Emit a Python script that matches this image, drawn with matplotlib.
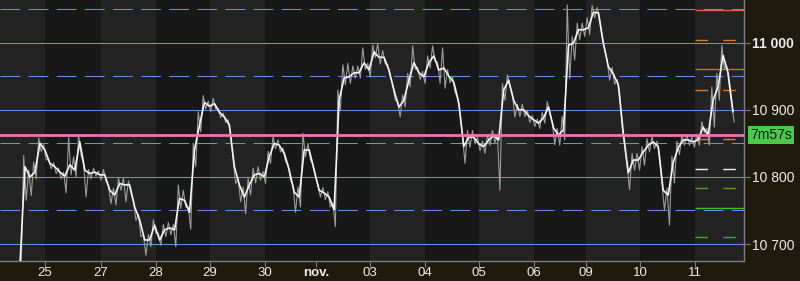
import matplotlib
matplotlib.use("Agg")
import matplotlib.pyplot as plt
import matplotlib.transforms as mtransforms
import numpy as np

# close price, sampled roughly every 5 px along the original chart
close = [10670, 10815, 10800, 10807, 10850, 10840, 10820, 10815, 10807, 10801,
         10818, 10810, 10852, 10810, 10805, 10807, 10803, 10803, 10780, 10773,
         10790, 10788, 10788, 10755, 10736, 10706, 10706, 10728, 10706, 10721,
         10724, 10721, 10768, 10765, 10747, 10840, 10877, 10911, 10905, 10909,
         10896, 10889, 10877, 10815, 10788, 10770, 10788, 10803, 10805, 10800,
         10830, 10850, 10847, 10835, 10810, 10777, 10770, 10840, 10840, 10810,
         10780, 10776, 10770, 10751, 10914, 10947, 10949, 10955, 10955, 10970,
         10959, 10986, 10978, 10978, 10959, 10929, 10904, 10914, 10944, 10970,
         10955, 10949, 10970, 10980, 10959, 10962, 10950, 10941, 10910, 10845,
         10859, 10859, 10849, 10845, 10855, 10861, 10855, 10929, 10944, 10914,
         10900, 10900, 10891, 10885, 10880, 10888, 10904, 10873, 10862, 10870,
         10996, 10999, 11019, 11019, 11022, 11045, 11044, 10999, 10964, 10953,
         10937, 10865, 10806, 10825, 10825, 10837, 10847, 10852, 10845, 10780,
         10773, 10821, 10843, 10855, 10855, 10852, 10855, 10874, 10862, 10914,
         10934, 10981, 10955, 10897]
# wick above / below the close for each sample (points)
up = [0, 17, 10, 15, 8, 8, 6, 6, 6, 6,
      40, 20, 10, 10, 6, 6, 6, 8, 8, 10,
      8, 10, 6, 10, 8, 8, 8, 8, 10, 8,
      8, 8, 20, 15, 8, 10, 20, 10, 8, 8,
      6, 6, 8, 10, 10, 15, 10, 10, 10, 8,
      8, 10, 8, 8, 8, 10, 15, 25, 10, 8,
      8, 8, 8, 10, 15, 20, 20, 10, 10, 22,
      10, 10, 20, 10, 8, 8, 8, 8, 10, 25,
      8, 8, 10, 15, 12, 30, 10, 8, 8, 15,
      10, 10, 10, 8, 8, 8, 8, 10, 8, 10,
      8, 8, 8, 6, 6, 8, 8, 8, 10, 20,
      60, 10, 10, 10, 15, 10, 8, 8, 10, 10,
      8, 10, 10, 10, 10, 8, 10, 8, 8, 10,
      10, 10, 10, 8, 8, 8, 8, 8, 10, 20,
      20, 15, 10, 8]
dn = [0, 50, 28, 10, 12, 15, 8, 10, 10, 25,
      15, 10, 20, 40, 8, 6, 8, 10, 20, 15,
      10, 25, 12, 20, 25, 23, 10, 12, 8, 10,
      10, 25, 15, 10, 25, 25, 10, 10, 8, 8,
      8, 8, 15, 25, 25, 25, 15, 12, 10, 10,
      10, 8, 10, 12, 15, 30, 15, 10, 15, 10,
      10, 10, 15, 25, 15, 10, 10, 8, 8, 10,
      10, 8, 10, 10, 10, 15, 15, 10, 10, 10,
      10, 10, 8, 8, 20, 30, 10, 15, 15, 25,
      15, 10, 10, 10, 8, 10, 75, 15, 10, 25,
      10, 10, 10, 10, 8, 8, 10, 25, 15, 15,
      50, 25, 15, 10, 10, 8, 8, 10, 20, 15,
      10, 20, 25, 15, 15, 20, 10, 10, 12, 30,
      45, 30, 10, 8, 8, 8, 8, 8, 15, 40,
      20, 20, 20, 15]

# x axis is measured in sessions from the "25" label
data_start, data_end = -0.458, 12.601
x_left, x_right = -0.824, 12.802
day_labels = ["25", "27", "28", "29", "30", "nov.", "03", "04", "05", "06", "09", "10", "11"]
day_pos = [0, 1.026, 2.033, 3.022, 4.029, 4.963, 5.952, 6.960, 7.949, 8.956, 9.908, 10.897, 11.905]
# sessions shaded alternately (the short sunday session shares its band)
band_edges = [x_left, 0, 1.026, 2.033, 3.022, 4.029, 5.952, 6.960, 7.949, 8.956,
              9.908, 10.897, 11.905, x_right]

grid_solid = [10700, 10800, 10900, 11000]
grid_dash = [10750, 10850, 10950, 11050]
y_low, y_high = 10674.7, 11063.3
last_price = 10862
countdown = "7m57s"

pivot_levels = [11048, 11004, 10960, 10930, 10857, 10812, 10784, 10754, 10710]
pivot_colors = ["#e05a5a", "#d8782a", "#e05a5a", "#d8782a", "#d8782a",
                "#f2f2f2", "#4e9a30", "#48b838", "#4e9a30"]
pivot_dashed = [False, True, False, True, True, True, True, False, True]

plt.rcParams["font.family"] = ["Liberation Sans", "DejaVu Sans"]

fig = plt.figure(figsize=(8, 2.81), dpi=100, facecolor="#1e1b0c")
ax = fig.add_axes([0, 0.0712, 0.93, 0.9288])
ax.set_facecolor("#1a1a1a")

for k in range(len(band_edges) - 1):
    col = "#232323" if k % 2 == 0 else "#181818"
    ax.axvspan(band_edges[k], band_edges[k + 1], color=col, lw=0, zorder=0)

for v in grid_solid:
    ax.axhline(v, color="#6a8ee6", lw=0.75, zorder=1)
for v in grid_dash:
    ax.axhline(v, color="#6a8ee6", lw=0.75, ls=(0, (19, 8)), zorder=1)

for lvl, col, dsh in zip(pivot_levels, pivot_colors, pivot_dashed):
    ax.hlines(lvl, day_pos[-1], x_right, colors=col, lw=1.0,
              linestyles=(0, (9, 11)) if dsh else "solid", zorder=2)

t = np.linspace(data_start, data_end, len(close))
c = np.array(close, dtype=float)
hi = c + np.array(up)
lo = c - np.array(dn)
step = t[1] - t[0]
gx = np.column_stack([t - step / 4, t + step / 4]).ravel()
gy = np.column_stack([hi, lo]).ravel()
ax.plot(gx, gy, color="#9c9c9c", lw=0.8, zorder=3)
ax.plot(t, c, color="#f4f4f4", lw=1.2, zorder=4)

ax.axhline(last_price, color="#e878b4", lw=2.0, zorder=5)

ax.set_xlim(x_left, x_right)
ax.set_ylim(y_low, y_high)

ax.yaxis.tick_right()
ax.set_yticks(grid_solid)
ax.set_yticklabels([f"{v:,}".replace(",", " ") for v in grid_solid])
for lab, v in zip(ax.get_yticklabels(), grid_solid):
    if v == 11000:
        lab.set_fontweight("bold")

ax.set_xticks(day_pos)
ax.set_xticklabels(day_labels)
for lab in ax.get_xticklabels():
    if lab.get_text() == "nov.":
        lab.set_fontweight("bold")

ax.tick_params(colors="#7d7d7d", labelcolor="#ececec", labelsize=10, length=4, width=0.8)
ax.tick_params(axis="x", labelsize=9.5, pad=0.5)
ax.tick_params(axis="y", pad=2)
for s in ["top", "left"]:
    ax.spines[s].set_visible(False)
for s in ["right", "bottom"]:
    ax.spines[s].set_color("#7d7d7d")
    ax.spines[s].set_linewidth(1.0)

trans = mtransforms.blended_transform_factory(ax.transAxes, ax.transData)
ax.text(1.008, last_price, countdown, transform=trans, ha="left", va="center",
        fontsize=10, color="#0c1a0c", clip_on=False,
        bbox=dict(boxstyle="square,pad=0.15", fc="#4cc84c", ec="none"))

fig.savefig("out.png", dpi=100, facecolor=fig.get_facecolor())
